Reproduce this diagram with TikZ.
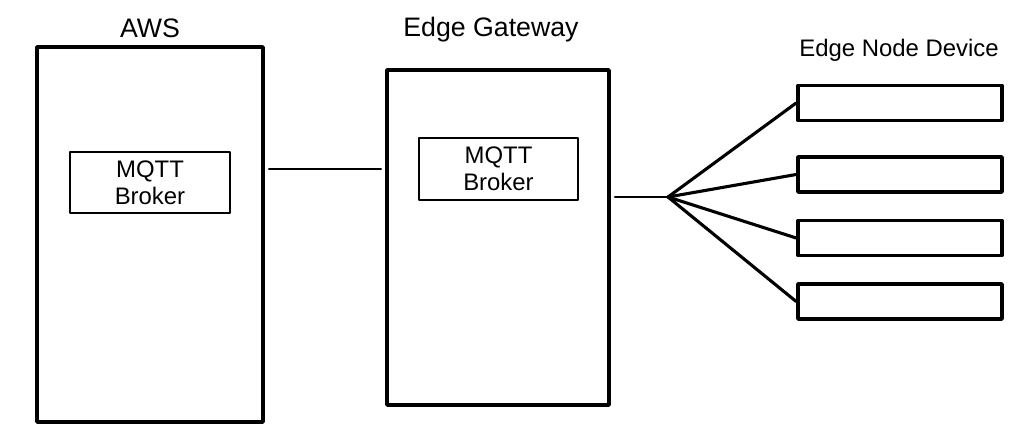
\documentclass[tikz,border=0pt]{standalone}
\usepackage{fontspec}
\setmainfont{Liberation Sans}
\usetikzlibrary{positioning}

\tikzset{
  outer/.style={draw, line width=2.6pt, minimum width=#1},
  broker/.style={draw, line width=0.8pt, align=center, font=\fontsize{17}{19.5}\selectfont},
  device/.style={draw, line width=2.6pt, minimum width=5.1cm, minimum height=0.875cm},
  title/.style={font=\fontsize{19}{22}\selectfont},
  link/.style={line width=1.1pt, shorten <=0.1cm, shorten >=0.1cm},
  fan/.style={line width=2.2pt}
}

\begin{document}
\begin{tikzpicture}[x=0.025cm, y=-0.025cm, line join=round, line cap=round]
  \useasboundingbox (0,0) rectangle (1025,433);

  % AWS
  \node[outer=5.65cm, minimum height=9.375cm] (aws) at (150,234.5) {};
  \node[title] (awslabel) at (150,28) {AWS};
  \node[broker, minimum width=4cm, minimum height=1.525cm] (awsbroker) at (150,182.5) {MQTT\\Broker};

  % Edge gateway
  \node[outer=5.55cm, minimum height=8.375cm] (gw) at (498,237.5) {};
  \node[title] (gwlabel) at (491,30) {Edge Gateway};
  \node[broker, minimum width=3.975cm, minimum height=1.55cm] (gwbroker) at (498.5,169) {MQTT\\Broker};

  % Edge node devices
  \node[title, font=\fontsize{17}{20}\selectfont] (devlabel) at (899,50) {Edge Node Device};
  \node[device] (dev1) at (900,103) {};
  \node[device] (dev2) at (900,174.5) {};
  \node[device] (dev3) at (900,238) {};
  \node[device] (dev4) at (900,301.5) {};

  % Links
  \draw[link] (aws.east |- gwbroker) -- (gw.west |- gwbroker);
  \coordinate (hub) at (668,197);
  \draw[link, line width=1.6pt, shorten >=0pt] (gw.east |- hub) -- (hub);
  \foreach \i in {1,...,4}
    \draw[fan] (hub) -- (dev\i.west);
\end{tikzpicture}
\end{document}
